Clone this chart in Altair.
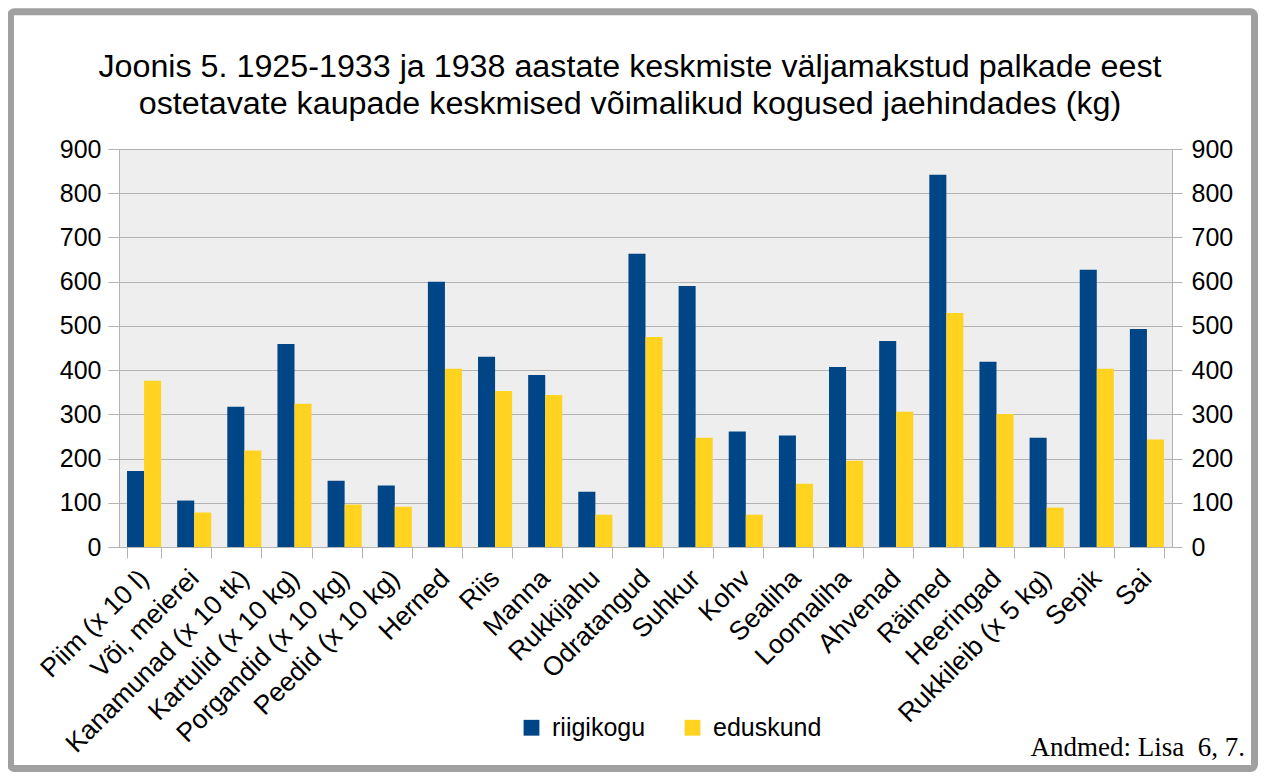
import altair as alt
import pandas as pd

categories = [
    "Piim (x 10 l)", "Või, meierei", "Kanamunad (x 10 tk)", "Kartulid (x 10 kg)",
    "Porgandid (x 10 kg)", "Peedid (x 10 kg)", "Herned", "Riis", "Manna", "Rukkijahu",
    "Odratangud", "Suhkur", "Kohv", "Sealiha", "Loomaliha", "Ahvenad", "Räimed",
    "Heeringad", "Rukkileib (x 5 kg)", "Sepik", "Sai",
]
riigikogu = [172, 105, 317, 459, 150, 139, 600, 430, 389, 125, 663, 590, 261, 252, 407, 466, 842, 419, 247, 627, 493]
eduskund = [376, 78, 218, 324, 96, 91, 403, 353, 344, 73, 475, 247, 73, 143, 195, 306, 529, 301, 89, 403, 243]
series = ["riigikogu", "eduskund"]
colors = ["#004586", "#ffd320"]
y_ticks = [0, 100, 200, 300, 400, 500, 600, 700, 800, 900]
title_text = ("Joonis 5. 1925-1933 ja 1938 aastate keskmiste väljamakstud palkade eest\n"
              "ostetavate kaupade keskmised võimalikud kogused jaehindades (kg)")
note_text = "Andmed: Lisa\u00a0 6, 7."

rows = []
for i, c in enumerate(categories):
    rows.append({"kaup": c, "seeria": series[0], "kogus": riigikogu[i]})
    rows.append({"kaup": c, "seeria": series[1], "kogus": eduskund[i]})
df = pd.DataFrame(rows)

FONT = "Liberation Sans"
GRID = "#b3b3b3"

x_enc = alt.X(
    "kaup:N", sort=categories, title=None,
    scale=alt.Scale(paddingInner=0.32, paddingOuter=0.16),
    axis=alt.Axis(labelAngle=-45, labelAlign="right", labelBaseline="middle",
                  labelFontSize=26.5, labelFont=FONT, labelColor="black", labelLimit=0,
                  labelPadding=16, tickSize=11, tickColor=GRID, domainColor=GRID,
                  tickBand="extent", grid=False, labelOverlap=False),
)
y_scale = alt.Scale(domain=[0, 900], nice=False)

bars = alt.Chart(df).mark_bar().encode(
    x=x_enc,
    xOffset=alt.XOffset("seeria:N", sort=series, scale=alt.Scale(paddingInner=0, paddingOuter=0)),
    y=alt.Y("kogus:Q", scale=y_scale, title=None,
            axis=alt.Axis(orient="left", values=y_ticks, labelFontSize=25, labelFont=FONT,
                          labelColor="black", tickSize=11, tickColor=GRID, domainColor=GRID,
                          gridColor=GRID, grid=True, labelPadding=7)),
    color=alt.Color("seeria:N", sort=series, scale=alt.Scale(domain=series, range=colors),
                    legend=alt.Legend(title=None, orient="none", legendX=400, legendY=566,
                                      direction="horizontal", symbolType="square",
                                      symbolSize=250, symbolStrokeWidth=0, labelFontSize=25,
                                      labelFont=FONT, labelColor="black", labelOffset=8,
                                      columnPadding=34)),
)

right_axis = alt.Chart(df).mark_bar(opacity=0).encode(
    x=x_enc,
    y=alt.Y("kogus:Q", scale=y_scale, title=None,
            axis=alt.Axis(orient="right", values=y_ticks, labelFontSize=25, labelFont=FONT,
                          labelColor="black", tickSize=10, tickColor=GRID, domainColor=GRID,
                          grid=False, labelPadding=9)),
)

one = pd.DataFrame({"k": [0]})

frame = alt.Chart(one).mark_rect(fillOpacity=0, stroke="#a0a0a0", strokeWidth=7, cornerRadius=4).encode(
    x=alt.value(-108.5), x2=alt.value(1135.5), y=alt.value(-137.2), y2=alt.value(619.5)
)

title = alt.Chart(one).mark_text(
    font=FONT, fontSize=32.25, align="center", baseline="alphabetic", lineBreak="\n",
    lineHeight=37.5, color="black"
).encode(x=alt.value(511), y=alt.value(-72.3), text=alt.value(title_text))

note = alt.Chart(one).mark_text(
    font="Liberation Serif", fontSize=27, align="right", baseline="alphabetic", color="black"
).encode(x=alt.value(1126), y=alt.value(607), text=alt.value(note_text))

chart = alt.layer(bars, right_axis, frame, title, note).resolve_axis(y="independent").properties(
    width=1053, height=398,
    autosize=alt.AutoSizeParams(type="none"),
    padding={"left": 111, "top": 141, "right": 86, "bottom": 225},
    background="white",
).configure_view(fill="#eeeeee", strokeWidth=0)

chart.save("out.html", embed_options={"renderer": "svg", "actions": False})
